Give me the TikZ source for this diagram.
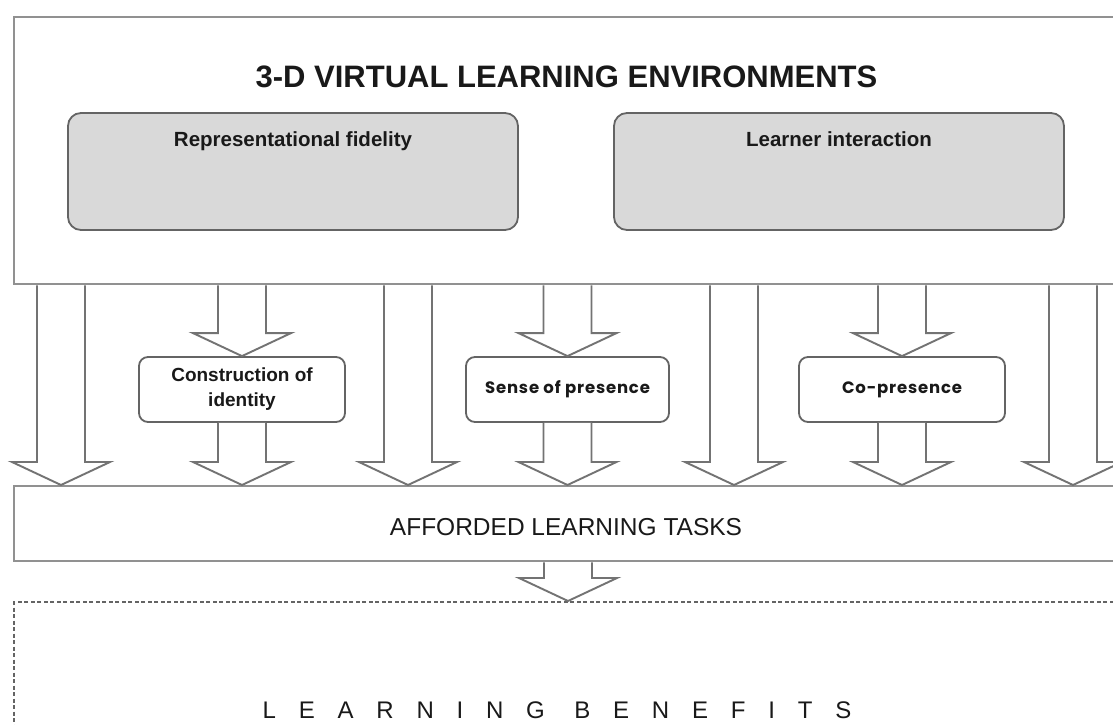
\documentclass[tikz,border=0pt]{standalone}
\usepackage{fontspec}
\setmainfont{Liberation Sans}
\newfontfamily\geofont{Poppins}
\usetikzlibrary{calc}
\usetikzlibrary{positioning}

\definecolor{frameline}{RGB}{145,145,145}
\definecolor{arrowline}{RGB}{115,115,115}
\definecolor{featureline}{RGB}{100,100,100}
\definecolor{featurefill}{RGB}{217,217,217}
\definecolor{inktext}{RGB}{25,25,25}

% block arrow from a start point (shaft) to a tip point
\newcommand{\blockarrow}[2]{%
  \draw[blockarrow] let \p1=#1, \p2=#2 in
    (\x1-24pt,\y1) -- (\x1-24pt,\y2+23pt) -- (\x1-49pt,\y2+23pt) -- (\x2,\y2)
    -- (\x1+49pt,\y2+23pt) -- (\x1+24pt,\y2+23pt) -- (\x1+24pt,\y1);}

\begin{document}
\begin{tikzpicture}[x=1pt,y=1pt,
  every node/.style={text=inktext},
  framebox/.style={draw=frameline,line width=2.4pt,fill=white,anchor=north west,minimum width=1120pt},
  featurebox/.style={draw=featureline,line width=1.8pt,fill=featurefill,rounded corners=13pt,minimum width=450pt,minimum height=117pt},
  featurelabel/.style={font=\fontsize{20.5}{24}\selectfont\bfseries,anchor=base},
  stagebox/.style={draw=featureline,line width=1.8pt,fill=white,rounded corners=9pt,minimum height=65pt,align=center,inner sep=0pt},
  geolabel/.style={font=\geofont\fontsize{16.5}{20}\selectfont\bfseries\addfontfeature{LetterSpace=5}},
  blockarrow/.style={draw=arrowline,line width=1.9pt,fill=white,line join=miter}]
  \clip (0,0) rectangle (1113,724);
  \fill[white] (0,0) rectangle (1113,724);
  % top frame
  \node[framebox,minimum height=267pt] (env) at (13,708) {};
  \node[font=\fontsize{31}{36}\selectfont\bfseries] (title) at (566.5,647) {3-D VIRTUAL LEARNING ENVIRONMENTS};
  \node[featurebox] (fidelity) at (293,552.5) {};
  \node[featurebox] (interaction) at (839,552.5) {};
  \node[featurelabel] (fidelity label) at ([yshift=-34pt]fidelity.north) {Representational fidelity};
  \node[featurelabel] (interaction label) at ([yshift=-34pt]interaction.north) {Learner interaction};
  % lower frames
  \node[framebox,minimum height=75pt] (tasks) at (13,239) {};
  \node[font=\fontsize{24.5}{28}\selectfont] (tasks label) at (566,197) {AFFORDED LEARNING TASKS};
  \node[framebox,draw=featureline,line width=2pt,dash pattern=on 4pt off 2.5pt,minimum height=140pt] (benefits) at (13,123) {};
  \node[font=\fontsize{24}{28}\selectfont\addfontfeature{LetterSpace=95}] (benefits label) at (557,14) {LEARNING BENEFITS};
  % middle boxes
  \node[stagebox,minimum width=206pt,font=\fontsize{19}{25}\selectfont\bfseries] (identity) at (242,334.5) {Construction of\\identity};
  \node[stagebox,minimum width=203pt,geolabel] (presence) at (567.5,334.5) {Sense of presence};
  \node[stagebox,minimum width=206pt,geolabel] (copresence) at (902,334.5) {Co-presence};
  % arrows
  \foreach \col in {61,408,734,1073}{
    \blockarrow{(\col,0 |- env.south)}{(\col,0 |- tasks.north)}
  }
  \foreach \stage in {identity,presence,copresence}{
    \blockarrow{(\stage.north |- env.south)}{(\stage.north)}
    \blockarrow{(\stage.south)}{(\stage.south |- tasks.north)}
  }
  \blockarrow{(568,0 |- tasks.south)}{(568,0 |- benefits.north)}
\end{tikzpicture}
\end{document}
